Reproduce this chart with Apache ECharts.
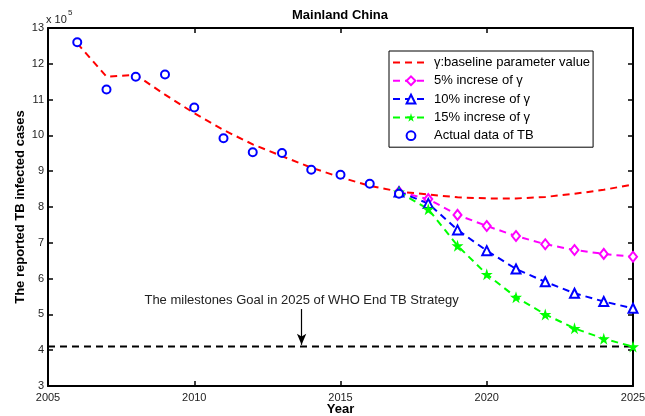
<!DOCTYPE html>
<html>
<head>
<meta charset="utf-8">
<script src="https://cdn.jsdelivr.net/npm/echarts@6/dist/echarts.min.js"></script>
<style>
  html, body { margin: 0; padding: 0; background: #fff; }
  #main { width: 645px; height: 416px; }
</style>
</head>
<body>
<div id="main"></div>
<script>
// values in units of 10^5 cases
const actualYears = [2006, 2007, 2008, 2009, 2010, 2011, 2012, 2013, 2014, 2015, 2016, 2017]
const actualCases = [12.6, 11.28, 11.64, 11.7, 10.78, 9.92, 9.53, 9.51, 9.04, 8.9, 8.65, 8.37]

const baselineYears = [2006, 2007, 2008, 2009, 2010, 2011, 2012, 2013, 2014, 2015,
  2016, 2017, 2018, 2019, 2020, 2021, 2022, 2023, 2024, 2025]
const baselineCases = [12.57, 11.64, 11.69, 11.14, 10.62, 10.15, 9.75, 9.42, 9.1, 8.83,
  8.59, 8.43, 8.35, 8.27, 8.24, 8.24, 8.28, 8.37, 8.48, 8.63]

const scenarioYears = [2017, 2018, 2019, 2020, 2021, 2022, 2023, 2024, 2025]
const increase5 = [8.42, 8.22, 7.78, 7.47, 7.19, 6.96, 6.8, 6.69, 6.61]
const increase10 = [8.42, 8.1, 7.36, 6.78, 6.27, 5.91, 5.59, 5.36, 5.17]
const increase15 = [8.42, 7.94, 6.92, 6.12, 5.48, 5.0, 4.61, 4.32, 4.1]

const goalYears = [2005, 2025]
const goalValue = 4.1
const arrowYear = 2013.67
const arrowFrom = 5.15
const arrowTo = 4.15

const seriesNames = [
  'γ:baseline parameter value',
  '5% increse of γ',
  '10% increse of γ',
  '15% increse of γ',
  'Actual data of TB',
]

const xMin = 2005
const xMax = 2025
const xStep = 5
const yMin = 3
const yMax = 13
const yStep = 1

const starPath = 'path://M50,0 L61,35 L98,35 L68,57 L79,91 L50,70 L21,91 L32,57 L2,35 L39,35 Z'
const font = '"Liberation Sans", Arial, Helvetica, sans-serif'

const pairs = (xs, ys) => xs.map((x, i) => [x, ys[i]])

const chart = echarts.init(document.getElementById('main'))

const axisLine = { show: true, lineStyle: { color: '#000', width: 2 } }
const axisTick = { show: true, inside: true, length: 5, lineStyle: { color: '#000', width: 1.5 } }

const option = {
  animation: false,
  backgroundColor: '#fff',
  textStyle: { fontFamily: font },
  title: {
    text: 'Mainland China',
    left: 340,
    textAlign: 'center',
    top: 9,
    padding: 0,
    textStyle: { fontSize: 13, fontWeight: 'bold', color: '#000', fontFamily: font },
  },
  graphic: [
    { type: 'text', left: 46, top: 14, style: { text: 'x 10', fontSize: 11, fill: '#222', fontFamily: font } },
    { type: 'text', left: 68, top: 9, style: { text: '5', fontSize: 8, fill: '#222', fontFamily: font } },
  ],
  legend: {
    data: seriesNames,
    orient: 'vertical',
    left: 389,
    top: 51,
    backgroundColor: '#fff',
    borderColor: '#000',
    borderWidth: 1,
    borderRadius: 0,
    padding: [5, 3, 5, 3],
    itemWidth: 36,
    itemHeight: 11,
    itemGap: 5.3,
    textStyle: { fontSize: 13, color: '#000', fontFamily: font },
  },
  grid: { left: 48, right: 12, top: 28, bottom: 30, outerBoundsMode: 'none', containLabel: false },
  xAxis: [
    {
      type: 'value',
      min: xMin,
      max: xMax,
      interval: xStep,
      name: 'Year',
      nameLocation: 'middle',
      nameGap: 17,
      nameMoveOverlap: false,
      nameTextStyle: { fontSize: 13, fontWeight: 'bold', color: '#000' },
      axisLine: axisLine,
      axisTick: axisTick,
      axisLabel: { fontSize: 11, color: '#222', margin: 6, formatter: (v) => String(v) },
      splitLine: { show: false },
    },
    {
      type: 'value',
      position: 'top',
      min: xMin,
      max: xMax,
      interval: xStep,
      axisLine: axisLine,
      axisTick: axisTick,
      axisLabel: { show: false },
      splitLine: { show: false },
    },
  ],
  yAxis: [
    {
      type: 'value',
      min: yMin,
      max: yMax,
      interval: yStep,
      name: 'The reported TB infected cases',
      nameLocation: 'middle',
      nameGap: 21,
      nameMoveOverlap: false,
      nameTextStyle: { fontSize: 13, fontWeight: 'bold', color: '#000' },
      axisLine: axisLine,
      axisTick: axisTick,
      axisLabel: { fontSize: 11, color: '#222', margin: 4 },
      splitLine: { show: false },
    },
    {
      type: 'value',
      position: 'right',
      min: yMin,
      max: yMax,
      interval: yStep,
      axisLine: axisLine,
      axisTick: axisTick,
      axisLabel: { show: false },
      splitLine: { show: false },
    },
  ],
  series: [
    {
      name: 'goal',
      type: 'line',
      data: pairs(goalYears, [goalValue, goalValue]),
      symbol: 'none',
      silent: true,
      lineStyle: { color: '#000', width: 2, type: [7, 5] },
      markLine: {
        silent: true,
        symbol: ['none', 'arrow'],
        symbolSize: [7, 11],
        lineStyle: { color: '#000', width: 1.2, type: 'solid' },
        label: {
          show: true,
          position: 'start',
          distance: 2,
          formatter: 'The milestones Goal in 2025 of WHO End TB Strategy',
          fontSize: 13,
          color: '#222',
          fontFamily: font,
        },
        data: [[{ coord: [arrowYear, arrowFrom] }, { coord: [arrowYear, arrowTo] }]],
      },
    },
    {
      name: seriesNames[0],
      type: 'line',
      data: pairs(baselineYears, baselineCases),
      symbol: 'none',
      color: '#ff0000',
      lineStyle: { color: '#ff0000', width: 2, type: [7, 5] },
      itemStyle: { opacity: 0 },
    },
    {
      name: seriesNames[1],
      type: 'line',
      data: pairs(scenarioYears, increase5),
      symbol: 'emptyDiamond',
      symbolSize: [8, 10],
      color: '#ff00ff',
      itemStyle: { color: '#ff00ff', borderColor: '#ff00ff', borderWidth: 2 },
      lineStyle: { color: '#ff00ff', width: 2, type: [7, 5] },
    },
    {
      name: seriesNames[2],
      type: 'line',
      data: pairs(scenarioYears, increase10),
      symbol: 'emptyTriangle',
      symbolSize: 9,
      color: '#0000ff',
      itemStyle: { color: '#0000ff', borderColor: '#0000ff', borderWidth: 2 },
      lineStyle: { color: '#0000ff', width: 2, type: [7, 5] },
    },
    {
      name: seriesNames[3],
      type: 'line',
      data: pairs(scenarioYears, increase15),
      symbol: starPath,
      symbolSize: 12,
      color: '#00ff00',
      itemStyle: { color: '#00ff00' },
      lineStyle: { color: '#00ff00', width: 2, type: [7, 5] },
    },
    {
      name: seriesNames[4],
      type: 'line',
      data: pairs(actualYears, actualCases),
      symbol: 'emptyCircle',
      symbolSize: 8,
      color: '#0000ff',
      itemStyle: { color: '#0000ff', borderColor: '#0000ff', borderWidth: 2 },
      lineStyle: { width: 0, opacity: 0 },
    },
  ],
}

chart.setOption(option)
</script>
</body>
</html>
